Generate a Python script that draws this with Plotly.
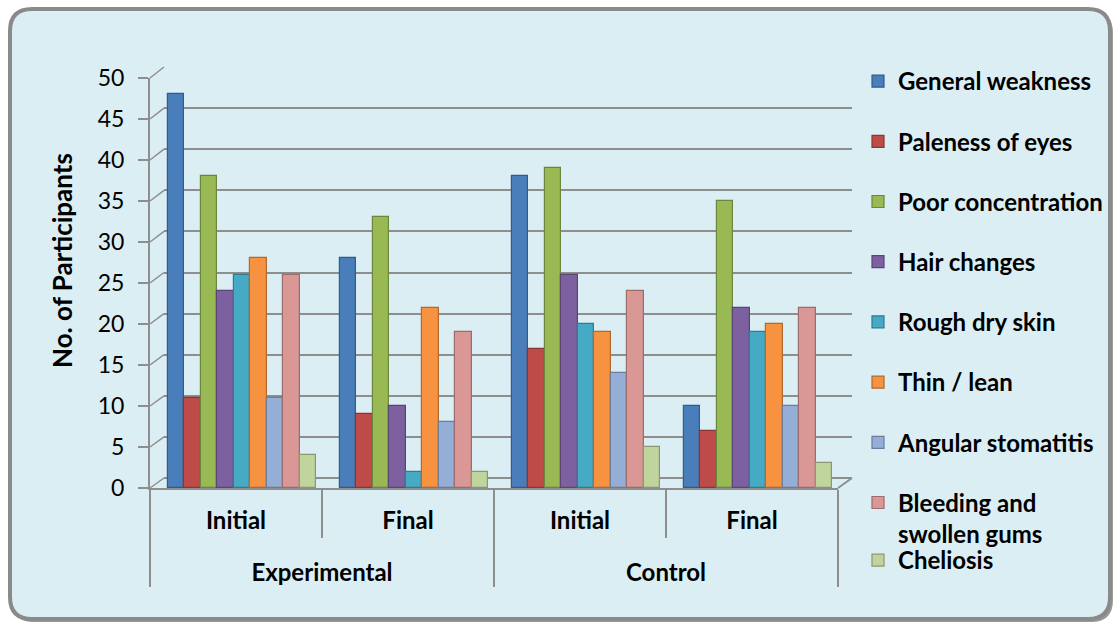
import plotly.graph_objects as go

# ---- data -------------------------------------------------------------
groups = ["Experimental", "Experimental", "Control", "Control"]
phases = ["Initial", "Final", "Initial", "Final"]

symptoms = [
    "General weakness", "Paleness of eyes", "Poor concentration",
    "Hair changes", "Rough dry skin", "Thin / lean", "Angular stomatitis",
    "Bleeding and<br>swollen gums", "Cheliosis",
]

general_weakness = [48, 28, 38, 10]
paleness_of_eyes = [11, 9, 17, 7]
poor_concentration = [38, 33, 39, 35]
hair_changes = [24, 10, 26, 22]
rough_dry_skin = [26, 2, 20, 19]
thin_lean = [28, 22, 19, 20]
angular_stomatitis = [11, 8, 14, 10]
bleeding_gums = [26, 19, 24, 22]
cheliosis = [4, 2, 5, 3]

series = [general_weakness, paleness_of_eyes, poor_concentration, hair_changes,
          rough_dry_skin, thin_lean, angular_stomatitis, bleeding_gums, cheliosis]

y_ticks = list(range(0, 51, 5))
y_title = "No. of Participants"

colors = ["#4A7EBB", "#BE4B48", "#98B954", "#7D60A0", "#46AAC5",
          "#F69240", "#95AED6", "#D99795", "#C0D49D"]

# ---- page geometry (pixels) ------------------------------------------
W, H = 1117, 628


def fx(p):
    return p / W


def fy(p):
    return 1 - p / H


FRONT_X = (150, 838)     # front edge of floor
FRONT_Y = (488, 78)      # value 0 / value 50 on front axis
DEPTH = (14, 10)         # 3-D depth shift of the back wall
BACK_X = (FRONT_X[0] + DEPTH[0], FRONT_X[1] + DEPTH[0])
BACK_Y = (FRONT_Y[0] - DEPTH[1], 67)

FONT = "Lato"
GRID = "#8E8E8E"


def darker(hex_color, k=0.72):
    r, g, b = (int(hex_color[i:i + 2], 16) for i in (1, 3, 5))
    return "rgb({},{},{})".format(int(r * k), int(g * k), int(b * k))


# inner category labels get an empty second line so the outer row sits lower
phase_labels = [p + "<br> " for p in phases]

fig = go.Figure()

# back wall (grid only)
fig.add_trace(go.Scatter(x=[0, 1], y=[0, 0], xaxis="x", yaxis="y",
                         mode="lines", line=dict(width=0),
                         hoverinfo="skip", showlegend=False))

# bars
slot_px = (FRONT_X[1] - FRONT_X[0]) / len(phases)
bar_w = 148 / len(series) / slot_px
start = -0.5 + 18 / slot_px
for i, (name, vals, col) in enumerate(zip(symptoms, series, colors)):
    fig.add_trace(go.Bar(
        x=[groups, phase_labels], y=vals, name=name,
        xaxis="x2", yaxis="y2",
        offset=start + i * bar_w, width=bar_w,
        marker=dict(color=col, line=dict(color=darker(col), width=1.2)),
        legendgroup=name,
        legend="legend2" if i == len(series) - 1 else "legend",
    ))

# ---- frame, back wall and 3-D edges -----------------------------------
shapes = []


def rounded_rect(x0, y0, x1, y1, r):
    return ("M {a},{b} L {c},{b} Q {x1p},{b} {x1p},{d} L {x1p},{e} "
            "Q {x1p},{y1p} {c},{y1p} L {a},{y1p} Q {x0p},{y1p} {x0p},{e} "
            "L {x0p},{d} Q {x0p},{b} {a},{b} Z").format(
        a=fx(x0 + r), c=fx(x1 - r), b=fy(y0), d=fy(y0 + r), e=fy(y1 - r),
        x0p=fx(x0), x1p=fx(x1), y1p=fy(y1))


shapes.append(dict(type="path", xref="paper", yref="paper", layer="below",
                   path=rounded_rect(12, 11, 1113, 622, 22),
                   fillcolor="#9A9A9A", line=dict(width=0)))
shapes.append(dict(type="path", xref="paper", yref="paper", layer="below",
                   path=rounded_rect(10, 9, 1110, 619, 22),
                   fillcolor="#DBEEF4", line=dict(color="#8A8A8A", width=4)))

# side-wall gridlines joining front ticks to back wall
fy_scale = (FRONT_Y[0] - FRONT_Y[1]) / 50
by_scale = (BACK_Y[0] - BACK_Y[1]) / 50
for v in y_ticks:
    shapes.append(dict(type="line", xref="paper", yref="paper", layer="below",
                       x0=fx(FRONT_X[0]), y0=fy(FRONT_Y[0] - v * fy_scale),
                       x1=fx(BACK_X[0]), y1=fy(BACK_Y[0] - v * by_scale),
                       line=dict(color=GRID, width=1.5)))
# floor right edge
shapes.append(dict(type="line", xref="paper", yref="paper",
                   x0=fx(FRONT_X[1]), y0=fy(FRONT_Y[0]),
                   x1=fx(BACK_X[1]), y1=fy(BACK_Y[0]),
                   line=dict(color=GRID, width=2)))
# separators between Initial / Final inside each group
for d in (0.25, 0.75):
    shapes.append(dict(type="line", xref="x2 domain", yref="paper",
                       x0=d, x1=d, y0=fy(FRONT_Y[0]), y1=fy(538),
                       line=dict(color=GRID, width=2)))

fig.update_layout(
    width=W, height=H, autosize=False,
    margin=dict(l=0, r=0, t=0, b=0, autoexpand=False),
    paper_bgcolor="white", plot_bgcolor="rgba(0,0,0,0)",
    font=dict(family=FONT, size=23, color="black"),
    shapes=shapes,
    bargap=0, barmode="group",
    xaxis=dict(domain=[fx(BACK_X[0]), fx(BACK_X[1])], range=[0, 1],
               anchor="y", visible=False, fixedrange=True),
    yaxis=dict(domain=[fy(BACK_Y[0]), fy(BACK_Y[1])], range=[0, 50],
               anchor="x", tickvals=y_ticks, showticklabels=False,
               showgrid=True, gridcolor=GRID, gridwidth=2,
               zeroline=True, zerolinecolor=GRID, zerolinewidth=2,
               showline=False, ticks=""),
    xaxis2=dict(type="multicategory",
                domain=[fx(FRONT_X[0]), fx(FRONT_X[1])], anchor="y2",
                showline=True, linecolor=GRID, linewidth=2,
                showdividers=True, dividercolor=GRID, dividerwidth=2,
                ticklabelstandoff=10,
                tickfont=dict(family=FONT, size=24, weight="bold"),
                showgrid=False, zeroline=False, automargin=False),
    yaxis2=dict(domain=[fy(FRONT_Y[0]), fy(FRONT_Y[1])], range=[0, 50],
                anchor="x2", tickvals=y_ticks,
                showline=True, linecolor=GRID, linewidth=2,
                ticks="outside", ticklen=10, tickcolor=GRID, tickwidth=2,
                ticklabelstandoff=9, automargin=False,
                showgrid=False, zeroline=False,
                tickfont=dict(family=FONT, size=23)),
    annotations=[dict(text=y_title, textangle=-90, showarrow=False,
                      xref="paper", yref="paper", x=fx(62), y=fy(261),
                      xanchor="center", yanchor="middle",
                      font=dict(family=FONT, size=26, weight="bold"))],
    legend=dict(x=fx(858), y=fy(59), xanchor="left", yanchor="top",
                bgcolor="rgba(0,0,0,0)", borderwidth=0,
                font=dict(family=FONT, size=24, weight="bold"),
                tracegroupgap=26, valign="top", traceorder="grouped"),
    legend2=dict(x=fx(858), y=fy(538), xanchor="left", yanchor="top",
                 bgcolor="rgba(0,0,0,0)", borderwidth=0,
                 font=dict(family=FONT, size=24, weight="bold")),
)

fig.write_html("out.html")
